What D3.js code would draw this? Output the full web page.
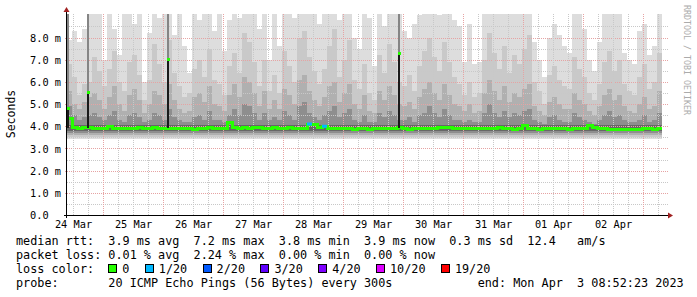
<!DOCTYPE html>
<html lang="en">
<head>
<meta charset="UTF-8">
<title>smokeping</title>
<style>
  body { margin: 0; background: #fff; }
  text { font-family: 'DejaVu Sans Mono', monospace; }
</style>
</head>
<body>
<svg width="697" height="297"></svg>
<script src="https://cdn.jsdelivr.net/npm/d3@7"></script>
<script>

// time range of the graph, one column per 2 hours
var startTime = new Date(2023, 2, 24, 9, 36);
var endTime = new Date(2023, 3, 3, 9, 36);
var stepHours = 2;

// median rtt per column (ms)
var median = [4.35,
  3.95, 3.92, 3.95, 3.93, 3.88, 3.90, 3.90, 3.98, 3.88, 3.90,
  3.88, 3.92, 3.90, 3.95, 3.88, 3.90, 3.93, 3.90, 3.88, 3.92,
  3.90, 3.88, 3.92, 3.90, 3.86, 3.90, 3.88, 3.95, 3.90, 3.92,
  3.90, 4.15, 3.95, 3.92, 3.95, 3.90, 3.93, 3.95, 3.90, 3.88,
  3.95, 3.90, 3.92, 3.95, 3.90, 3.88, 3.92, 4.10, 4.08, 3.95,
  4.00, 3.92, 3.90, 3.88, 3.92, 3.90, 3.87, 3.90, 3.88, 3.86,
  3.90, 3.88, 3.92, 3.90, 3.88, 3.95, 3.88, 3.86, 3.90, 3.92,
  3.88, 3.92, 3.90, 3.95, 3.93, 3.95, 3.90, 3.92, 3.88, 3.90,
  3.88, 3.92, 3.90, 3.88, 3.92, 3.95, 3.90, 3.88, 3.86, 3.90,
  4.05, 3.88, 3.90, 3.86, 3.88, 3.90, 3.92, 3.90, 3.88, 3.86,
  3.90, 3.88, 3.92, 4.05, 3.95, 3.90, 3.88, 3.86, 3.85, 3.86,
  3.85, 3.86, 3.86, 3.85, 3.88, 3.90, 3.86, 3.88];

// smoke: upper edge of each ping band per column (ms), outer to inner
var smokeMax = [
  7.9, 8.3, 7.8, 8.4, 9.5, 9.5, 9.5, 7.0, 9.5, 8.4,
  7.2, 9.5, 9.5, 8.6, 9.5, 6.0, 8.2, 9.5, 8.9, 9.5,
  9.5, 8.1, 9.5, 7.6, 6.4, 9.5, 8.8, 9.5, 9.5, 8.3,
  9.5, 7.4, 8.8, 9.5, 8.9, 9.5, 9.5, 9.5, 8.4, 9.5,
  7.0, 9.5, 7.6, 9.5, 9.5, 8.9, 9.5, 9.5, 9.5, 9.5,
  8.6, 9.5, 9.5, 9.5, 8.8, 9.5, 9.5, 8.0, 7.5, 9.5,
  8.9, 6.7, 9.5, 8.5, 9.5, 9.5, 9.5, 8.3, 8.0, 8.6,
  9.0, 9.5, 9.5, 9.5, 9.0, 9.5, 9.5, 8.8, 8.5, 6.9,
  8.6, 6.8, 6.9, 9.5, 9.5, 9.5, 9.5, 9.5, 9.1, 9.5,
  9.5, 9.5, 9.5, 7.8, 7.0, 6.2, 8.0, 8.6, 8.1, 7.6,
  7.3, 9.5, 9.5, 8.4, 7.0, 6.5, 7.8, 9.5, 9.5, 9.5,
  9.5, 7.3, 7.0, 6.8, 8.3, 8.6, 7.2, 7.6, 9.5];

var smokeHigh = [
  6.8, 6.2, 5.4, 5.9, 6.0, 7.1, 6.5, 5.8, 6.6, 7.4,
  6.0, 5.6, 6.9, 7.2, 6.3, 5.2, 6.1, 7.7, 6.8, 6.0,
  7.9, 6.4, 5.8, 5.3, 5.5, 6.6, 7.0, 6.2, 7.5, 6.1,
  5.9, 5.4, 6.7, 7.3, 6.4, 8.2, 7.8, 6.9, 5.8, 7.0,
  5.6, 6.3, 5.5, 7.4, 6.7, 6.0, 8.0, 8.3, 7.1, 6.5,
  5.9, 6.6, 7.6, 8.4, 6.2, 7.0, 7.9, 6.1, 5.7, 6.8,
  5.5, 5.2, 7.2, 6.4, 7.7, 6.9, 6.0, 5.8, 6.3, 5.6,
  6.7, 7.4, 8.0, 7.1, 6.5, 7.8, 6.9, 6.2, 5.9, 5.4,
  6.0, 5.3, 5.5, 7.0, 8.2, 7.3, 6.6, 7.6, 6.4, 7.2,
  6.8, 7.5, 8.1, 6.0, 5.6, 5.0, 6.3, 6.7, 6.1, 5.8,
  5.7, 7.1, 6.6, 6.2, 5.5, 5.2, 5.9, 6.9, 7.4, 6.5,
  7.0, 5.9, 5.6, 5.4, 6.2, 6.8, 5.7, 6.0, 7.3];

var smokeMid = [
  5.6, 5.0, 4.8, 5.1, 5.3, 5.5, 5.2, 4.8, 5.3, 5.8,
  5.0, 4.7, 5.4, 5.7, 5.2, 4.6, 5.0, 5.6, 5.4, 5.0,
  5.9, 5.2, 4.8, 4.6, 4.7, 5.3, 5.5, 5.1, 5.8, 5.0,
  4.9, 4.7, 5.4, 5.9, 5.3, 6.2, 6.0, 5.5, 4.9, 5.6,
  4.8, 5.2, 4.8, 5.7, 5.4, 5.0, 6.1, 6.3, 5.6, 5.2,
  4.9, 5.3, 5.8, 6.0, 5.1, 5.5, 5.9, 5.0, 4.8, 5.4,
  4.7, 4.6, 5.6, 5.2, 5.8, 5.4, 5.0, 4.9, 5.1, 4.8,
  5.3, 5.7, 6.0, 5.5, 5.2, 5.9, 5.4, 5.0, 4.9, 4.7,
  5.0, 4.6, 4.7, 5.5, 6.1, 5.6, 5.2, 5.8, 5.1, 5.5,
  5.3, 5.7, 5.9, 4.9, 4.7, 4.5, 5.1, 5.3, 5.0, 4.8,
  4.8, 5.5, 5.2, 5.0, 4.7, 4.5, 4.9, 5.4, 5.7, 5.2,
  5.4, 4.9, 4.7, 4.6, 5.0, 5.3, 4.8, 4.9, 5.6];

var smokeLow = [
  4.9, 4.5, 4.3, 4.4, 4.5, 4.6, 4.4, 4.3, 4.5, 4.7,
  4.3, 4.2, 4.5, 4.6, 4.4, 4.2, 4.3, 4.6, 4.5, 4.3,
  4.8, 4.4, 4.3, 4.2, 4.2, 4.4, 4.5, 4.3, 4.7, 4.3,
  4.3, 4.2, 4.5, 4.8, 4.5, 5.0, 4.9, 4.6, 4.3, 4.6,
  4.3, 4.4, 4.3, 4.7, 4.5, 4.3, 4.9, 5.1, 4.6, 4.4,
  4.3, 4.5, 4.7, 4.9, 4.4, 4.6, 4.8, 4.3, 4.2, 4.5,
  4.2, 4.2, 4.6, 4.4, 4.7, 4.5, 4.3, 4.3, 4.4, 4.2,
  4.5, 4.6, 4.9, 4.6, 4.4, 4.8, 4.5, 4.3, 4.3, 4.2,
  4.3, 4.2, 4.2, 4.6, 5.0, 4.6, 4.4, 4.7, 4.4, 4.6,
  4.5, 4.7, 4.8, 4.3, 4.2, 4.1, 4.4, 4.5, 4.3, 4.2,
  4.2, 4.6, 4.4, 4.3, 4.2, 4.1, 4.3, 4.5, 4.7, 4.4,
  4.5, 4.3, 4.2, 4.2, 4.3, 4.5, 4.2, 4.3, 4.6];

// lower edge of each band (ms) and the darkest band round the median
var smokeFloors = [3.42, 3.52, 3.6, 3.68];
var innerBand = [3.78, 4.04];
var smokeColors = ['#dddddd', '#c9c9c9', '#b0b0b0', '#8e8e8e'];
var innerColor = '#676767';

// single-hour outliers
var spikeTimes = ['2023-03-24T09:36', '2023-03-24T17:36', '2023-03-26T01:36', '2023-03-29T21:59'];
var spikeValues = [4.8, 5.5, 7.0, 7.3];

// columns with packet loss, and loss level (index into legend)
var lossColumns = [48, 51];
var lossLevels = [1, 1];

var yTicks = [0, 1, 2, 3, 4, 5, 6, 7, 8];
var yTickLabels = ['0.0', '1.0 m', '2.0 m', '3.0 m', '4.0 m', '5.0 m', '6.0 m', '7.0 m', '8.0 m'];
var dayLabels = ['24 Mar', '25 Mar', '26 Mar', '27 Mar', '28 Mar', '29 Mar', '30 Mar', '31 Mar', '01 Apr', '02 Apr'];

var lossNames = ['0', '1/20', '2/20', '3/20', '4/20', '10/20', '19/20'];
var lossColors = ['#26ff00', '#00b8ff', '#0059ff', '#5e00ff', '#7e00ff', '#dd00ff', '#ff0000'];

var statLines = [
  'median rtt:  3.9 ms avg  7.2 ms max  3.8 ms min  3.9 ms now  0.3 ms sd  12.4   am/s',
  'packet loss: 0.01 % avg  2.24 % max  0.00 % min  0.00 % now'
];
var probeLine = 'probe:       20 ICMP Echo Pings (56 Bytes) every 300s            end: Mon Apr  3 08:52:23 2023';

var svg = d3.select('svg');
var plotLeft = 67, plotRight = 667, plotTop = 14, plotBottom = 215;

var x = d3.scaleTime().domain([startTime, endTime]).range([plotLeft, plotRight]);
var y = d3.scaleLinear().domain([0, 8]).range([plotBottom, 37.5]);

svg.append('rect').attr('width', 697).attr('height', 297).attr('fill', '#fff');

svg.append('defs').append('clipPath').attr('id', 'plot').append('rect')
  .attr('x', plotLeft).attr('y', plotTop)
  .attr('width', plotRight - plotLeft).attr('height', plotBottom - plotTop);

var g = svg.append('g').attr('clip-path', 'url(#plot)').attr('shape-rendering', 'crispEdges');

function colX(i) { return Math.round(x(d3.timeHour.offset(startTime, i * stepHours))); }

// smoke bands
[smokeMax, smokeHigh, smokeMid, smokeLow].forEach(function(band, b) {
  g.append('g').selectAll('rect')
    .data(band)
    .enter()
    .append('rect')
    .attr('x', function(d, i) { return colX(i); })
    .attr('width', function(d, i) { return colX(i + 1) - colX(i); })
    .attr('y', function(d) { return y(d); })
    .attr('height', function(d) { return y(smokeFloors[b]) - y(d); })
    .attr('fill', smokeColors[b]);
});

g.append('rect')
  .attr('x', colX(0)).attr('width', colX(median.length) - colX(0))
  .attr('y', y(innerBand[1])).attr('height', y(innerBand[0]) - y(innerBand[1]))
  .attr('fill', innerColor);

// grid
var grid = svg.append('g').attr('shape-rendering', 'crispEdges').attr('fill', 'none');

var minorY = d3.range(1, 18, 2).map(function(k) { return k / 2; });
grid.selectAll('.hminor').data(minorY).enter().append('line')
  .attr('x1', plotLeft).attr('x2', plotRight + 1)
  .attr('y1', function(d) { return Math.round(y(d)) + 0.5; })
  .attr('y2', function(d) { return Math.round(y(d)) + 0.5; })
  .attr('stroke', '#c8c8c8').attr('stroke-dasharray', '1,1');

grid.selectAll('.hmajor').data(yTicks.slice(1)).enter().append('line')
  .attr('x1', plotLeft - 2).attr('x2', plotRight + 1)
  .attr('y1', function(d) { return Math.round(y(d)) + 0.5; })
  .attr('y2', function(d) { return Math.round(y(d)) + 0.5; })
  .attr('stroke', '#e6a3a3').attr('stroke-dasharray', '1,1');

var sixHours = d3.timeHour.every(6).range(startTime, endTime);
grid.selectAll('.vline').data(sixHours).enter().append('line')
  .attr('x1', function(d) { return Math.round(x(d)) + 0.5; })
  .attr('x2', function(d) { return Math.round(x(d)) + 0.5; })
  .attr('y1', plotTop).attr('y2', plotBottom)
  .attr('stroke', function(d) { return d.getHours() === 0 ? '#e6a3a3' : '#c8c8c8'; })
  .attr('stroke-dasharray', '1,1');

// median line
var pts = median.map(function(m, i) { return [colX(i), y(m)]; });
pts.push([colX(median.length), y(median[median.length - 1])]);

var line = d3.line().curve(d3.curveStepAfter);

svg.append('path')
  .attr('d', line(pts))
  .attr('fill', 'none')
  .attr('stroke', lossColors[0])
  .attr('stroke-width', 3)
  .attr('shape-rendering', 'crispEdges');

svg.selectAll('.loss').data(lossColumns).enter().append('rect')
  .attr('x', function(c) { return colX(c); })
  .attr('width', function(c) { return colX(c + 1) - colX(c); })
  .attr('y', function(c) { return y(median[c]) - 1.5; })
  .attr('height', 3)
  .attr('fill', function(c, i) { return lossColors[lossLevels[i]]; });

// outlier spikes
var parseTime = d3.timeParse('%Y-%m-%dT%H:%M');
var spikes = svg.append('g').attr('shape-rendering', 'crispEdges');
spikeTimes.forEach(function(t, i) {
  var sx = Math.round(x(parseTime(t)));
  var sy = y(spikeValues[i]);
  spikes.append('rect').attr('x', sx).attr('width', 2)
    .attr('y', plotTop).attr('height', sy - plotTop).attr('fill', '#858585');
  spikes.append('rect').attr('x', sx).attr('width', 2)
    .attr('y', sy).attr('height', y(3.9) - sy).attr('fill', '#1a1a1a');
  spikes.append('rect').attr('x', sx).attr('width', 3)
    .attr('y', sy - 1.5).attr('height', 3).attr('fill', lossColors[0]);
});

// axes
var yAxis = d3.axisLeft(y).tickValues(yTicks)
  .tickFormat(function(d, i) { return yTickLabels[i]; })
  .tickSize(0);

svg.append('g')
  .attr('transform', 'translate(' + plotLeft + ',0)')
  .call(yAxis)
  .call(function(a) {
    a.select('.domain').remove();
    a.selectAll('text')
      .attr('x', 30 - plotLeft).attr('dy', '0.35em')
      .attr('text-anchor', 'start')
      .style('font-family', "'DejaVu Sans Mono', monospace")
      .style('font-size', '10.3px')
      .attr('fill', '#000');
  });

var labelTimes = dayLabels.map(function(d, k) {
  return d3.timeHour.offset(d3.timeDay.floor(startTime), 24 * k + 12);
});

var xAxis = d3.axisBottom(x).tickValues(labelTimes)
  .tickFormat(function(d, i) { return dayLabels[i]; })
  .tickSize(0);

svg.append('g')
  .attr('transform', 'translate(0,' + plotBottom + ')')
  .call(xAxis)
  .call(function(a) {
    a.select('.domain').remove();
    a.selectAll('text')
      .attr('y', 5.5)
      .style('font-family', "'DejaVu Sans Mono', monospace")
      .style('font-size', '10.3px')
      .attr('fill', '#000');
  });

// axis lines and arrows
svg.append('line').attr('x1', plotLeft - 3).attr('x2', plotRight + 2)
  .attr('y1', plotBottom + 0.5).attr('y2', plotBottom + 0.5)
  .attr('stroke', '#000').attr('shape-rendering', 'crispEdges');
svg.append('line').attr('x1', plotLeft - 0.5).attr('x2', plotLeft - 0.5)
  .attr('y1', plotBottom + 3).attr('y2', plotTop - 4)
  .attr('stroke', '#000').attr('shape-rendering', 'crispEdges');
svg.append('path')
  .attr('d', 'M' + (plotRight + 1) + ',' + (plotBottom - 2.5) + 'L' + (plotRight + 6) + ',' + (plotBottom + 0.5) + 'L' + (plotRight + 1) + ',' + (plotBottom + 3.5) + 'Z')
  .attr('fill', '#a02020');
svg.append('path')
  .attr('d', 'M' + (plotLeft - 3.5) + ',' + (plotTop - 2) + 'L' + (plotLeft - 0.5) + ',' + (plotTop - 7) + 'L' + (plotLeft + 2.5) + ',' + (plotTop - 2) + 'Z')
  .attr('fill', '#a02020');

// y title and watermark
svg.append('text')
  .attr('transform', 'translate(15,114) rotate(-90)')
  .attr('text-anchor', 'middle')
  .style('font-size', '11.5px')
  .attr('fill', '#000')
  .text('Seconds');

svg.append('text')
  .attr('transform', 'translate(684,5) rotate(90)')
  .style('font-size', '8.3px')
  .attr('fill', '#ababab')
  .text('RRDTOOL / TOBI OETIKER');

// legend
var legend = svg.append('g').style('font-size', '11.8px').attr('fill', '#000');
var charW = 7.1;

legend.selectAll('.stat').data(statLines).enter().append('text')
  .attr('x', 16).attr('y', function(d, i) { return 245 + i * 14; })
  .style('white-space', 'pre')
  .text(function(d) { return d; });

legend.append('text').attr('x', 16).attr('y', 273).text('loss color:');

var lx = 16 + 13 * charW;
lossNames.forEach(function(name, i) {
  legend.append('rect')
    .attr('x', Math.round(lx) + 0.5).attr('y', 264.5)
    .attr('width', 8).attr('height', 8)
    .attr('fill', lossColors[i]).attr('stroke', '#000');
  legend.append('text').attr('x', lx + 14).attr('y', 273).text(name);
  lx += 14 + name.length * charW + 15.4;
});

legend.append('text').attr('x', 16).attr('y', 287)
  .style('white-space', 'pre')
  .text(probeLine);

</script>
</body>
</html>
